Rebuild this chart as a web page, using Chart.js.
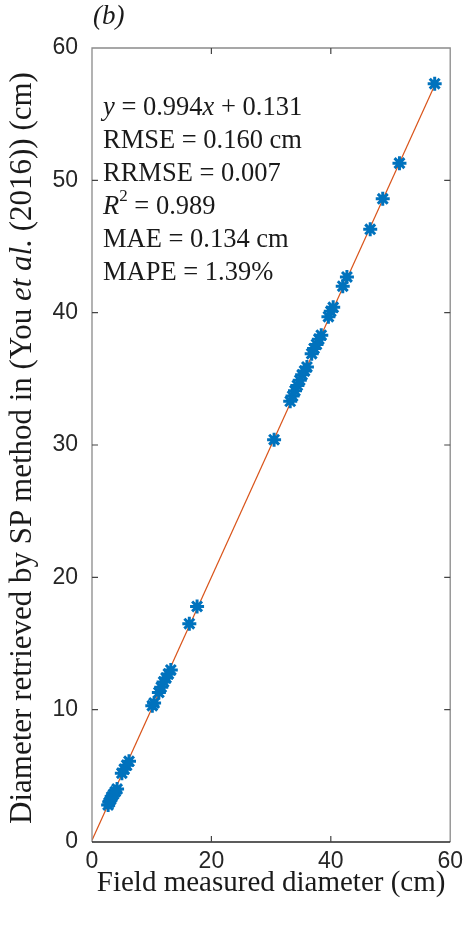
<!DOCTYPE html>
<html>
<head>
<meta charset="utf-8">
<title>SP method diameter vs field diameter</title>
<script src="https://cdn.jsdelivr.net/npm/chart.js@4/dist/chart.umd.min.js"></script>
<style>
  html, body { margin: 0; padding: 0; background: #fff; }
  #wrap { width: 469px; height: 925px; position: relative; }
</style>
</head>
<body>
<div id="wrap"><canvas id="chart"></canvas></div>
<script>
// field measured diameter (cm) and diameter from SP method (cm)
const fieldDiameter = [2.7, 2.9, 3.1, 3.3, 3.6, 3.9, 4.2,
    5.0, 5.4, 5.8, 6.2,
    10.1, 10.4, 11.2, 11.6, 12.0, 12.4, 12.8, 13.2,
    16.3, 17.6, 30.5,
    33.2, 33.6, 34.0, 34.4, 34.8, 35.2, 35.6, 36.0,
    36.8, 37.2, 37.6, 38.0, 38.4,
    39.6, 40.0, 40.4, 42.0, 42.7,
    46.6, 48.7, 51.5, 57.4];
const spDiameter = [2.8, 3.0, 3.2, 3.4, 3.6, 3.8, 4.0,
    5.2, 5.5, 5.8, 6.1,
    10.3, 10.5, 11.3, 11.7, 12.1, 12.4, 12.7, 13.0,
    16.5, 17.8, 30.4,
    33.3, 33.7, 34.1, 34.5, 34.9, 35.3, 35.6, 35.9,
    36.9, 37.3, 37.6, 38.0, 38.3,
    39.7, 40.1, 40.4, 42.0, 42.7,
    46.3, 48.6, 51.3, 57.3];
const xTicks = [0, 20, 40, 60];
const yTicks = [0, 10, 20, 30, 40, 50, 60];
const fitSlope = 0.994;
const fitIntercept = 0.131;
const fitRange = [0, 57.4];
const statLines = ['y = 0.994x + 0.131', 'RMSE = 0.160 cm', 'RRMSE = 0.007',
    'R2 = 0.989', 'MAE = 0.134 cm', 'MAPE = 1.39%'];

const serif = '"Liberation Serif", "Times New Roman", serif';
const sans = '"Liberation Sans", Arial, sans-serif';

const points = fieldDiameter.map((v, i) => ({ x: v, y: spDiameter[i] }));
const fitLine = fitRange.map(v => ({ x: v, y: fitSlope * v + fitIntercept }));

// draws a line of mixed runs [text, font, dy]
function drawRuns(ctx, runs, x, y) {
    let cx = x;
    runs.forEach(r => {
        ctx.font = r[1];
        ctx.fillText(r[0], cx, y + (r[2] || 0));
        cx += ctx.measureText(r[0]).width;
    });
    return cx - x;
}
function runsWidth(ctx, runs) {
    let w = 0;
    runs.forEach(r => { ctx.font = r[1]; w += ctx.measureText(r[0]).width; });
    return w;
}

const framePlugin = {
    id: 'frame',
    afterDatasetsDraw(chart) {
        const { ctx, chartArea: { left, right, top, bottom }, scales: { x, y } } = chart;
        ctx.save();
        // box
        ctx.lineWidth = 1.3;
        ctx.strokeStyle = '#8a8a8a';
        ctx.beginPath();
        ctx.moveTo(left, bottom); ctx.lineTo(left, top); ctx.lineTo(right, top); ctx.lineTo(right, bottom);
        ctx.stroke();
        ctx.strokeStyle = '#262626';
        ctx.beginPath();
        ctx.moveTo(left, bottom); ctx.lineTo(right, bottom);
        ctx.stroke();
        // inner ticks
        ctx.lineWidth = 1.2;
        ctx.strokeStyle = '#444';
        ctx.beginPath();
        xTicks.slice(1, -1).forEach(v => {
            const px = x.getPixelForValue(v);
            ctx.moveTo(px, bottom); ctx.lineTo(px, bottom - 6);
            ctx.moveTo(px, top); ctx.lineTo(px, top + 6);
        });
        yTicks.slice(1, -1).forEach(v => {
            const py = y.getPixelForValue(v);
            ctx.moveTo(left, py); ctx.lineTo(left + 6, py);
            ctx.moveTo(right, py); ctx.lineTo(right - 6, py);
        });
        ctx.stroke();
        ctx.restore();
    },
    afterDraw(chart) {
        const { ctx, chartArea: { left, right, top, bottom } } = chart;
        ctx.save();
        ctx.fillStyle = '#1a1a1a';
        ctx.textBaseline = 'middle';

        // panel label
        ctx.font = 'italic 27px ' + serif;
        ctx.fillText('(b)', left + 1, 17);

        // stats box
        const f = '26.5px ' + serif, fi = 'italic 26.5px ' + serif, fs = '17px ' + serif;
        const lines = [
            [['y', fi], [' = 0.994', f], ['x', fi], [' + 0.131', f]],
            [[statLines[1], f]],
            [[statLines[2], f]],
            [['R', fi], ['2', fs, -10], [' = 0.989', f]],
            [[statLines[4], f]],
            [[statLines[5], f]]
        ];
        lines.forEach((runs, i) => drawRuns(ctx, runs, left + 11, 108 + i * 33));

        // x title
        ctx.font = '29px ' + serif;
        ctx.textAlign = 'center';
        ctx.textBaseline = 'alphabetic';
        ctx.fillText('Field measured diameter (cm)', (left + right) / 2, 891);

        // y title (rotated, with italic "et al.")
        ctx.textAlign = 'left';
        ctx.textBaseline = 'middle';
        const yRuns = [['Diameter retrieved by SP method in (You ', '31px ' + serif],
            ['et al.', 'italic 31px ' + serif], [' (2016)) (cm)', '31px ' + serif]];
        const w = runsWidth(ctx, yRuns);
        ctx.translate(23, (top + bottom) / 2 + 3);
        ctx.rotate(-Math.PI / 2);
        drawRuns(ctx, yRuns, -w / 2, 0);
        ctx.restore();
    }
};

new Chart(document.getElementById('chart'), {
    type: 'scatter',
    data: {
        datasets: [
            {
                label: 'Fit',
                data: fitLine,
                showLine: true,
                borderColor: '#D95319',
                borderWidth: 1.2,
                pointRadius: 0,
                order: 2
            },
            {
                label: 'Trees',
                data: points,
                pointStyle: 'star',
                pointRadius: 7,
                borderColor: '#0072BD',
                backgroundColor: '#0072BD',
                pointBorderWidth: 3,
                order: 1
            }
        ]
    },
    options: {
        responsive: true,
        maintainAspectRatio: false,
        animation: false,
        layout: { padding: { top: 48, right: 16, left: 0, bottom: 0 } },
        plugins: { legend: { display: false }, tooltip: { enabled: false } },
        scales: {
            x: {
                min: 0, max: 60,
                afterFit: s => { s.height = 83; },
                grid: { display: false, drawTicks: false },
                border: { display: false },
                ticks: { stepSize: 20, padding: 6, color: '#262626', font: { family: sans, size: 23 } }
            },
            y: {
                min: 0, max: 60,
                afterFit: s => { s.width = 92; },
                grid: { display: false, drawTicks: false },
                border: { display: false },
                ticks: { stepSize: 10, padding: 14, color: '#262626', font: { family: sans, size: 23 } }
            }
        }
    },
    plugins: [framePlugin]
});
</script>
</body>
</html>
